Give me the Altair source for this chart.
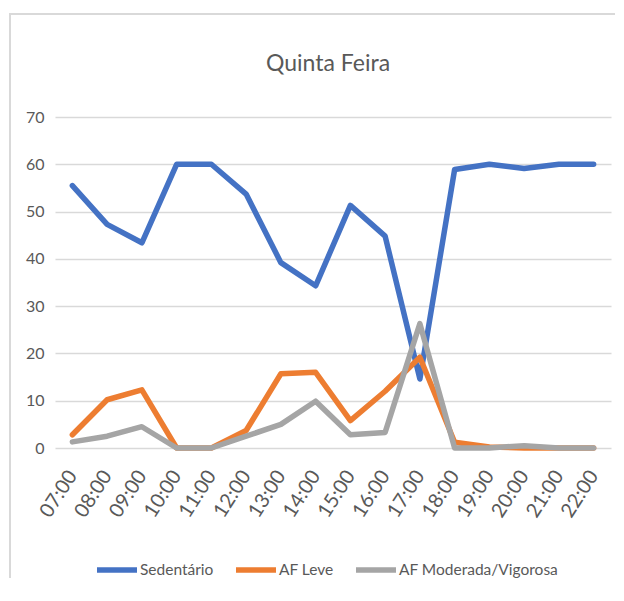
import altair as alt
import pandas as pd

hours = ["07:00", "08:00", "09:00", "10:00", "11:00", "12:00", "13:00", "14:00",
         "15:00", "16:00", "17:00", "18:00", "19:00", "20:00", "21:00", "22:00"]
sedentario = [55.5, 47.3, 43.4, 60, 60, 53.7, 39.2, 34.3, 51.3, 44.8, 14.6, 58.9, 60, 59.1, 60, 60]
af_leve = [2.8, 10.2, 12.3, 0, 0, 3.7, 15.7, 16.0, 5.8, 12.0, 19.2, 1.2, 0.2, 0, 0, 0]
af_mod = [1.3, 2.5, 4.5, 0, 0, 2.5, 5.0, 9.9, 2.8, 3.3, 26.3, 0, 0, 0.5, 0, 0]

series = ["Sedentário", "AF Leve", "AF Moderada/Vigorosa"]
colors = ["#4472C4", "#ED7D31", "#A5A5A5"]
title_text = ["Quinta Feira"]

rows = []
for name, vals in zip(series, [sedentario, af_leve, af_mod]):
    for h, v in zip(hours, vals):
        rows.append({"hora": h, "valor": v, "serie": name})
df = pd.DataFrame(rows)

FONT = "Lato"
TXT = "#595959"

lines = alt.Chart(df).mark_line(strokeWidth=5.5, strokeJoin="round", strokeCap="round").encode(
    x=alt.X("hora:O", sort=hours, scale=alt.Scale(type="point", padding=0.5),
            axis=alt.Axis(title=None, labelAngle=-57, labelFontSize=20, labelFont=FONT,
                          labelColor=TXT, ticks=False, domain=False, labelPadding=24,
                          labelAlign="right", labelBaseline="middle")),
    y=alt.Y("valor:Q", scale=alt.Scale(domain=[0, 70], nice=False),
            axis=alt.Axis(title=None, values=[0, 10, 20, 30, 40, 50, 60, 70],
                          labelFontSize=16, labelFont=FONT, labelColor=TXT,
                          ticks=False, domain=False, labelPadding=11,
                          gridColor="#D9D9D9", gridWidth=1.5)),
    color=alt.Color("serie:N", sort=series,
                    scale=alt.Scale(domain=series, range=colors),
                    legend=alt.Legend(title=None, orient="none", direction="horizontal",
                                      legendX=39, legendY=430,
                                      symbolType="stroke", symbolSize=1600,
                                      symbolStrokeWidth=5.5, labelFontSize=15.5,
                                      labelFont=FONT, labelColor=TXT, labelOffset=0,
                                      labelLimit=400, columnPadding=11)),
)

border = alt.Data(values=[{}])
left_rule = alt.Chart(border).mark_rule(stroke="#D9D9D9", strokeWidth=2).encode(
    x=alt.value(-45), y=alt.value(-104), y2=alt.value(461)
)
top_rule = alt.Chart(border).mark_rule(stroke="#D9D9D9", strokeWidth=2).encode(
    x=alt.value(-46), x2=alt.value(562), y=alt.value(-103)
)

title = alt.Chart(pd.DataFrame({"t": title_text})).mark_text(
    font=FONT, fontSize=23, color=TXT, align="center", baseline="alphabetic"
).encode(text="t:N", x=alt.value(273), y=alt.value(-46))

chart = alt.layer(left_rule, top_rule, title, lines).properties(
    width=556, height=331,
    autosize=alt.AutoSizeParams(type="none"),
    padding={"left": 47, "top": 109, "right": 4, "bottom": 130},
).configure_view(stroke=None)

chart.save("out.html", embed_options={"renderer": "svg", "actions": False})
